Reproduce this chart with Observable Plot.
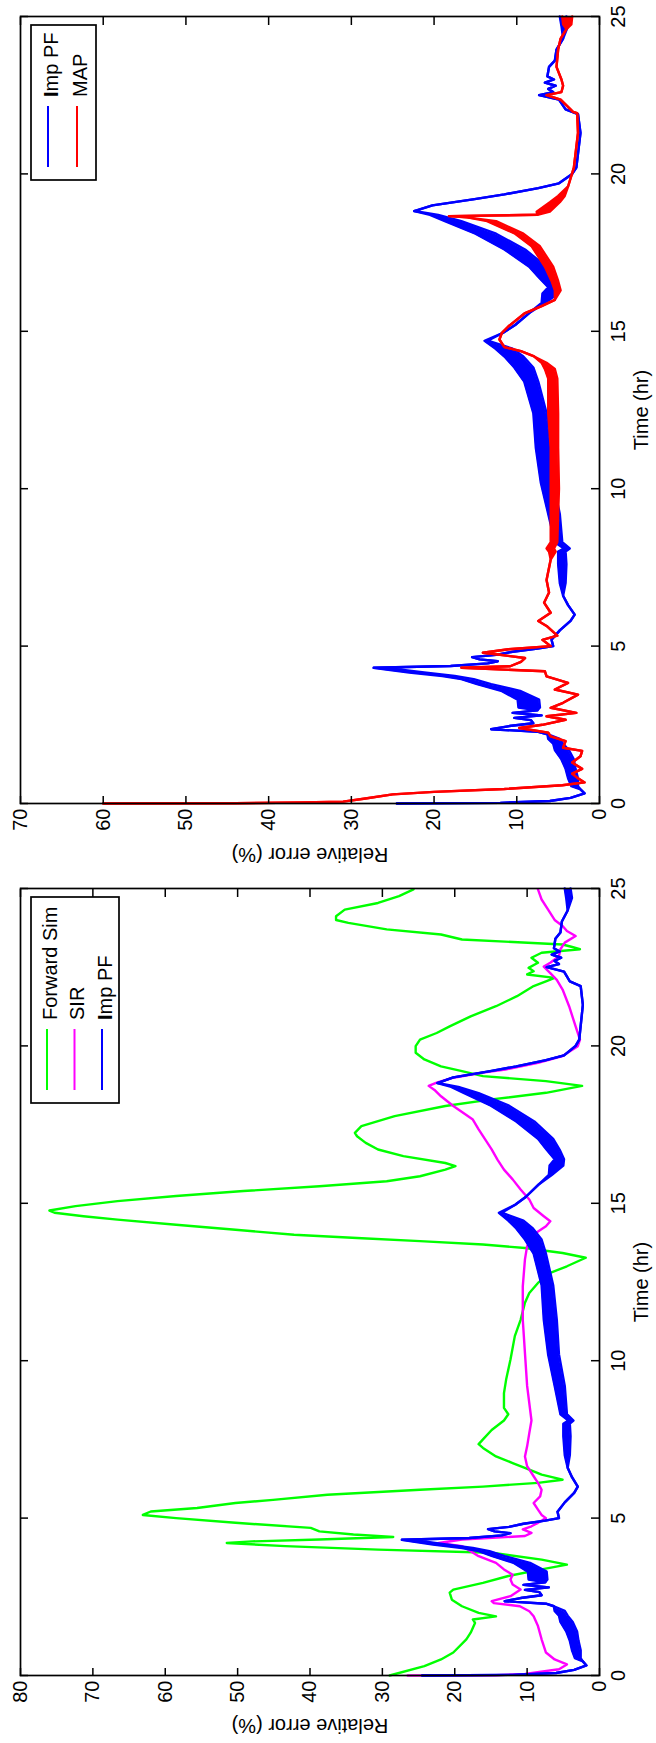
<!DOCTYPE html>
<html><head><meta charset="utf-8">
<script src="https://cdn.jsdelivr.net/npm/d3@7"></script>
<script src="https://cdn.jsdelivr.net/npm/@observablehq/plot@0.6"></script>
<style>
html,body{margin:0;padding:0;background:#fff;}
body{width:656px;height:1743px;position:relative;overflow:hidden;}
svg.panel{position:absolute;left:0;transform-origin:0 0;transform:rotate(-90deg);max-width:none !important;}
</style></head><body>
<script>
// ---------- tick labels ----------
const timeTicks = [0, 5, 10, 15, 20, 25];
const errTicksTop = [0, 10, 20, 30, 40, 50, 60, 70];
const errTicksBottom = [0, 10, 20, 30, 40, 50, 60, 70, 80];

// ---------- series: [time (hr), low error %, high error %] ----------
const impPF = [
  [0,24.5,24.5],[0.02,12,12],[0.08,6,6],[0.18,3.5,3.5],[0.32,1.8,1.8],[0.45,2.3,2.3],
  [0.55,2.6,3.4],[0.8,2.6,3.8],[1.1,2.9,4.1],[1.4,3.1,4.6],[1.7,3.7,5.4],[1.9,4.4,5.6],
  [2.05,4.8,6.2],[2.2,6.3,6.3],[2.28,7.4,7.4],[2.36,13.1,13.1],[2.46,10.9,10.9],[2.55,8.0,8.0],
  [2.65,8.3,8.3],[2.72,10.3,10.3],[2.8,7.0,7.0],[2.88,10.5,10.5],[2.96,7.5,7.5],[3.05,7.2,9.8],
  [3.3,7.3,9.9],[3.58,9.6,11.9],[3.79,13.1,14.8],[3.95,15.2,16.7],[4.05,17.5,19.0],[4.16,21.2,23.0],
  [4.26,24.2,26.0],[4.31,27.3,27.3],[4.37,18.0,18.0],[4.45,13.5,13.5],[4.52,12.3,12.3],[4.58,14.5,14.5],
  [4.65,15.4,15.4],[4.72,12.5,12.5],[4.82,10.5,10.5],[4.92,7.5,7.5],[5.0,5.6,5.6],[5.2,5.8,5.8],
  [5.5,4.8,4.8],[5.8,3.5,3.5],[6.0,3.0,3.0],[6.3,3.8,3.8],[6.6,4.4,4.4],[7.0,4.1,4.8],
  [7.6,4.0,5.0],[8.0,4.1,5.0],[8.1,3.6,4.3],[8.3,4.5,5.4],[9.2,4.8,6.2],[10.2,5.6,7.1],
  [11.3,5.9,7.7],[12.4,6.4,8.0],[13.4,7.4,9.1],[13.85,8.0,10.3],[14.2,9.2,11.5],[14.45,10.5,12.6],
  [14.7,13.5,13.9],[14.96,11.6,11.6],[15.2,10.2,10.2],[15.58,8.5,8.5],[15.9,6.6,7.0],[16.2,5.0,6.9],
  [16.4,4.9,6.2],[16.7,5.5,7.3],[17.05,6.4,8.5],[17.6,9.0,11.5],[18.1,12.5,15.0],[18.5,16.7,18.7],
  [18.7,19.5,20.5],[18.82,22.4,22.4],[19.0,20.2,20.2],[19.2,15.1,15.1],[19.35,11.5,11.5],[19.55,7.4,7.4],
  [19.7,4.9,4.9],[20.0,3.3,3.3],[20.2,2.8,2.8],[21.3,2.3,2.3],[21.9,2.6,2.6],[22.05,4.1,4.1],
  [22.36,4.9,4.9],[22.5,7.3,7.3],[22.6,5.6,5.6],[22.7,6.2,6.2],[22.8,5.3,5.3],[22.9,6.6,6.6],
  [23.0,5.5,5.5],[23.1,6.3,6.3],[23.4,6.1,6.1],[23.6,5.4,5.4],[23.95,5.2,5.2],[24.3,4.4,4.4],
  [24.7,3.8,4.6],[25.0,4.0,4.8]
];
const mapEst = [
  [0,60,60],[0.01,44,44],[0.03,36,36],[0.06,31,31],[0.15,28.5,28.5],[0.29,25,25],[0.37,20,20],
  [0.46,11.5,11.5],[0.58,4.5,4.5],[0.67,1.8,1.8],[0.8,2.6,2.6],[0.95,3.3,3.3],[1.1,2.1,2.1],
  [1.3,3.3,3.3],[1.5,2.3,2.3],[1.67,2.1,2.1],[1.77,4.4,4.4],[1.98,4.1,4.1],[2.13,5.9,5.9],
  [2.25,6.2,6.2],[2.4,9.7,9.7],[2.5,6.9,6.9],[2.66,4.1,4.1],[2.77,6.4,6.4],[2.88,2.8,2.8],
  [3.04,5.9,5.9],[3.2,4.4,4.4],[3.46,2.6,2.6],[3.62,5.4,5.4],[3.83,3.8,3.8],[4.04,6.4,6.4],
  [4.2,6.6,6.6],[4.31,16.7,16.7],[4.36,10.8,10.8],[4.5,9.5,9.5],[4.62,9.0,9.0],[4.74,12.5,12.5],
  [4.79,14.1,14.1],[4.9,11,11],[5.0,5.9,5.9],[5.2,6.9,6.9],[5.33,5.1,5.1],[5.64,6.4,6.4],
  [5.8,7.4,7.4],[6.06,5.9,5.9],[6.38,6.7,6.7],[6.7,6.1,6.1],[7.1,6.4,6.4],[7.75,5.9,5.9],
  [8.0,5.3,6.1],[8.1,5.5,6.4],[8.3,5.1,5.9],[9.2,5.0,5.9],[10.0,4.9,5.9],[11.3,5.0,5.9],
  [12.4,5.0,6.2],[13.5,5.1,6.2],[13.8,5.4,6.6],[14.0,6.4,7.0],[14.2,7.9,7.9],[14.37,9.5,9.5],
  [14.5,11.5,11.5],[14.74,12.1,12.1],[14.95,11.8,11.8],[15.16,11.0,11.0],[15.58,9.0,9.0],[15.8,7.0,7.0],
  [16.0,5.4,5.4],[16.3,4.7,5.4],[16.6,5.0,5.8],[17.05,5.6,6.6],[17.7,7.2,8.2],[18.1,9.2,10.2],
  [18.5,12.5,13.6],[18.62,16,16],[18.66,18.2,18.2],[18.7,7.5,7.5],[18.8,6.0,7.6],[19.1,4.8,6.0],
  [19.3,4.2,5.0],[19.6,3.8,3.8],[20.2,3.1,3.1],[21.3,2.6,2.6],[21.93,2.7,2.7],[21.97,3.2,3.2],
  [22.05,3.5,3.5],[22.36,4.7,4.7],[22.5,6.4,6.4],[22.6,4.6,4.6],[22.8,4.4,4.4],[23.0,4.6,4.6],
  [23.4,5.2,5.2],[23.95,5.0,5.0],[24.3,4.7,4.7],[24.6,4.0,4.0],[24.75,3.4,4.4],[25,3.3,4.5]
];

// ---------- series: [time (hr), error %] ----------
const forwardSim = [
  [0,29.0],[0.3,24.2],[0.51,21.9],[0.73,20.2],[1.15,18.4],[1.36,17.8],[1.67,17.2],[1.78,17.5],
  [1.88,14.3],[1.99,16.7],[2.2,19.0],[2.41,20.4],[2.63,20.7],[2.73,20.2],[2.94,16.1],[3.16,12.6],
  [3.37,8.0],[3.52,4.5],[3.68,8.0],[3.9,14.9],[4.0,30.6],[4.11,43.4],[4.21,51.5],[4.26,48],
  [4.32,38.7],[4.4,28.5],[4.48,34],[4.58,38.7],[4.69,39.9],[4.85,50.3],[5.0,58.5],[5.1,63.1],
  [5.21,62],[5.32,55.6],[5.48,50.3],[5.58,45.1],[5.74,37.6],[5.9,24.8],[6.0,16.1],[6.12,8.5],
  [6.22,5.1],[6.38,8.0],[6.54,9.7],[6.75,12.0],[6.96,14.3],[7.23,16.1],[7.35,16.7],[7.5,16.1],
  [7.8,14.9],[8.1,13.2],[8.3,12.6],[8.5,13.2],[8.97,13.2],[9.4,12.9],[10.04,12.3],[10.78,11.7],
  [11.3,10.9],[11.84,10.3],[12.15,9.7],[12.47,8.5],[12.79,6.8],[13.0,4.5],[13.27,1.9],[13.42,5.1],
  [13.58,10.3],[13.69,16.1],[13.8,24.8],[13.9,33.5],[14.0,42.2],[14.16,50.3],[14.32,58.5],[14.48,66.6],
  [14.59,71.3],[14.7,75.3],[14.77,76],[14.91,72.4],[15.07,66.6],[15.23,58.5],[15.39,49.2],[15.54,38.7],
  [15.7,29.4],[15.86,24.8],[16.07,21.3],[16.18,19.9],[16.28,21.3],[16.5,27.1],[16.71,30.6],[16.92,32.3],
  [17.13,33.5],[17.24,33.8],[17.45,32.9],[17.77,28.3],[18.09,21.3],[18.3,14.9],[18.51,7.4],[18.73,2.4],
  [18.88,7.4],[19.04,16.1],[19.2,19.0],[19.35,21.9],[19.57,24.2],[19.78,25.4],[19.99,25.4],[20.2,24.8],
  [20.41,22.5],[20.62,20.7],[20.94,17.8],[21.26,14.3],[21.58,11.4],[21.9,9.1],[22.05,7.4],[22.16,6.2],
  [22.27,10.0],[22.37,9.1],[22.48,9.8],[22.64,8.5],[22.8,9.4],[22.96,8.0],[23.07,2.7],[23.15,3.9],
  [23.22,5.1],[23.38,19.0],[23.54,21.9],[23.7,29.4],[23.91,34.7],[24.0,36.4],[24.12,36.4],[24.33,35.2],
  [24.54,30.6],[24.76,27.7],[24.97,25.7]
];
const sir = [
  [0,26.5],[0.01,14.3],[0.05,10.3],[0.2,5.6],[0.35,4.5],[0.51,6.2],[0.73,7.4],[1.15,8.0],
  [1.57,8.5],[1.88,9.1],[2.04,9.7],[2.2,11.0],[2.3,14.6],[2.36,14.9],[2.52,12.3],[2.73,10.9],
  [2.89,12.0],[3.05,12.3],[3.2,12.0],[3.37,13.2],[3.58,14.3],[3.79,16.7],[3.95,17.8],[4.11,19.0],
  [4.21,22.2],[4.32,19.0],[4.43,10.3],[4.53,9.4],[4.64,10.6],[4.74,9.4],[4.85,8.5],[5.0,7.4],
  [5.1,8.0],[5.27,8.5],[5.48,9.1],[5.69,8.2],[5.9,8.0],[6.12,8.5],[6.33,9.1],[6.65,10.0],
  [6.96,10.3],[7.28,10.0],[7.7,9.7],[8.1,9.4],[9.2,10.0],[10.24,10.3],[11.3,10.6],[12.36,10.6],
  [13.22,10.3],[13.64,10.0],[14.06,8.8],[14.27,7.4],[14.43,6.8],[14.59,7.7],[14.85,9.1],[15.12,9.7],
  [15.44,10.9],[15.76,12.0],[16.07,13.2],[16.39,14.1],[16.71,14.9],[17.03,15.8],[17.35,16.7],[17.66,17.5],
  [18.09,20.2],[18.4,21.9],[18.6,22.8],[18.73,23.6],[18.83,22.5],[18.99,20.2],[19.15,16.1],[19.25,13.0],
  [19.46,8.5],[19.68,5.1],[19.99,3.0],[20.2,2.7],[20.62,3.3],[21.26,4.2],[21.79,5.1],[22.1,5.9],
  [22.31,6.8],[22.52,7.7],[22.64,6.8],[22.85,5.6],[23.07,5.4],[23.28,4.8],[23.49,3.3],[23.65,4.5],
  [23.81,5.1],[24.0,6.2],[24.33,7.1],[24.65,8.0],[24.97,8.5]
];

const FONT = "'Liberation Sans', Arial, Helvetica, sans-serif";

function panel({W, T, mL, mR, yMax, yTicks, series, legend}) {
  const H = 656, mT = 20, mB = 57;
  const plotW = W - mL - mR, plotH = H - mT - mB;
  const marks = [];
  for (const s of series) {
    if (s.band) {
      marks.push(Plot.areaY(s.data, {x: d => d[0], y1: d => d[1], y2: d => d[2], fill: s.color}));
      marks.push(Plot.line(s.data, {x: d => d[0], y: d => d[1], stroke: s.color, strokeWidth: 2.4}));
      marks.push(Plot.line(s.data, {x: d => d[0], y: d => d[2], stroke: s.color, strokeWidth: 2.4}));
    } else {
      marks.push(Plot.line(s.data, {x: d => d[0], y: d => d[1], stroke: s.color, strokeWidth: 2.4}));
    }
  }
  const svg = Plot.plot({
    width: W, height: H,
    marginLeft: mL, marginRight: mR, marginTop: mT, marginBottom: mB,
    style: {fontFamily: FONT, fontSize: "20px", background: "white", color: "black", maxWidth: "none"},
    x: {domain: [0, 25]},
    y: {domain: [0, yMax]},
    marks: [
      ...marks,
      Plot.frame({stroke: "black", strokeWidth: 1.7}),
      Plot.tickX(timeTicks, {x: d => d, insetTop: plotH - 8, stroke: "black", strokeWidth: 1.5}),
      Plot.tickX(timeTicks, {x: d => d, insetBottom: plotH - 8, stroke: "black", strokeWidth: 1.5}),
      Plot.tickY(yTicks, {y: d => d, insetRight: plotW - 8, stroke: "black", strokeWidth: 1.5}),
      Plot.tickY(yTicks, {y: d => d, insetLeft: plotW - 8, stroke: "black", strokeWidth: 1.5}),
      Plot.axisX(timeTicks, {tickSize: 0, tickPadding: 11, label: null, fontSize: 20}),
      Plot.axisY(yTicks, {tickSize: 0, tickPadding: 5, label: null, fontSize: 20}),
      Plot.text(["Time (hr)"], {frameAnchor: "bottom", dy: 42, lineAnchor: "middle", fontSize: 20}),
      Plot.text(["Relative error (%)"], {frameAnchor: "left", dx: 20 - mL + (T ? -3 : 0), rotate: -90, lineAnchor: "middle", textAnchor: "middle", fontSize: 20})
    ]
  });
  svg.classList.add("panel");
  svg.style.top = (T + W) + "px";
  document.body.appendChild(svg);

  // legend (top-right corner of the unrotated axes)
  const uR = W - mR;
  const boxRight = uR - 8, boxLeft = boxRight - legend.width, boxTop = mT + 11;
  const g = d3.select(svg).append("g").attr("font-family", FONT).attr("font-size", 20)
    .attr("text-anchor", "start");
  g.append("rect").attr("x", boxLeft).attr("y", boxTop).attr("width", legend.width).attr("height", legend.height)
    .attr("fill", "white").attr("stroke", "black").attr("stroke-width", 1.7);
  legend.items.forEach((it, i) => {
    const v = boxTop + legend.first + i * legend.gap;
    g.append("line").attr("x1", boxLeft + 13).attr("x2", boxLeft + 74).attr("y1", v).attr("y2", v)
      .attr("stroke", it.color).attr("stroke-width", 2);
    const t = g.append("text").attr("x", boxLeft + 83).attr("y", v + 9.5)
      .attr("fill", "black").attr("text-anchor", "start");
    if (it.boldFirst) {
      t.append("tspan").attr("font-weight", "bold").text(it.label[0]);
      t.append("tspan").text(it.label.slice(1));
    } else t.text(it.label);
  });
}

panel({
  W: 875, T: 0, mL: 71, mR: 17, yMax: 70, yTicks: errTicksTop,
  series: [
    {data: impPF, color: "#0000ff", band: true},
    {data: mapEst, color: "#ff0000", band: true}
  ],
  legend: {width: 155, height: 65, first: 17, gap: 29, items: [
    {label: "Imp PF", color: "#0000ff", boldFirst: true},
    {label: "MAP", color: "#ff0000"}
  ]}
});

panel({
  W: 868, T: 875, mL: 67, mR: 14, yMax: 80, yTicks: errTicksBottom,
  series: [
    {data: forwardSim.map(d => [d[0], d[1], d[1]]), color: "#00ff00"},
    {data: sir.map(d => [d[0], d[1], d[1]]), color: "#ff00ff"},
    {data: impPF, color: "#0000ff", band: true}
  ],
  legend: {width: 206, height: 88, first: 16, gap: 27.5, items: [
    {label: "Forward Sim", color: "#00ff00"},
    {label: "SIR", color: "#ff00ff"},
    {label: "Imp PF", color: "#0000ff", boldFirst: true}
  ]}
});
</script>
</body></html>
